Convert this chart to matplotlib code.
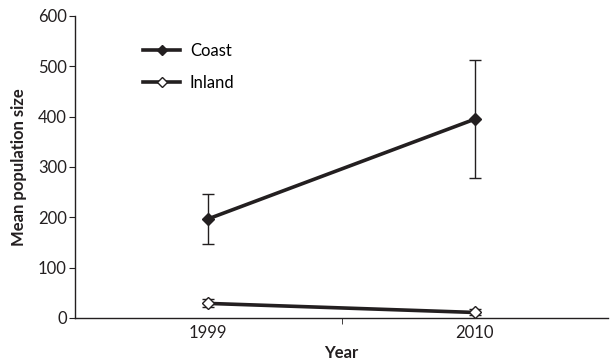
import matplotlib.pyplot as plt
import numpy as np

plt.rcParams['font.family'] = ['Lato', 'DejaVu Sans']

years = ['1999', '2010']
coast = [197, 395]
coast_err = [50, 117]
inland = [29, 11]
inland_err = [8, 6]

fig = plt.figure(figsize=(6.1, 3.64), dpi=100)
ax = fig.add_axes([75 / 610, 1 - 318 / 364, 533 / 610, (318 - 16) / 364])

x = np.arange(len(years)) + 0.5

ax.errorbar(x, coast, yerr=coast_err, fmt='none', ecolor='#231f20',
            elinewidth=1, capsize=4, capthick=1, zorder=2)
ax.errorbar(x, inland, yerr=inland_err, fmt='none', ecolor='#231f20',
            elinewidth=1, capsize=4, capthick=1, zorder=2)
ax.plot(x, coast, color='#231f20', lw=2.6, marker='D', ms=6,
        mfc='#231f20', mec='#231f20', label='Coast', zorder=3)
ax.plot(x, inland, color='#231f20', lw=2.6, marker='D', ms=6,
        mfc='white', mec='#231f20', mew=1, label='Inland', zorder=3)

ax.set_xlim(0, 2)
ax.set_ylim(0, 600)
ax.set_yticks(range(0, 601, 100))
ax.set_xticks(x)
ax.set_xticklabels(years)
ax.set_xticks([1], minor=True)
ax.tick_params(axis='x', which='major', length=0, labelsize=12, pad=5,
               colors='#231f20')
ax.tick_params(axis='x', which='minor', length=4, direction='out',
               color='#231f20')
ax.tick_params(axis='y', length=4, labelsize=12, colors='#231f20', pad=2)

for s in ['top', 'right']:
    ax.spines[s].set_visible(False)
for s in ['left', 'bottom']:
    ax.spines[s].set_color('#231f20')
    ax.spines[s].set_linewidth(1)

ax.set_xlabel('Year', fontsize=12, fontweight='bold', color='#231f20', labelpad=3)
ax.set_ylabel('Mean population size', fontsize=12, fontweight='bold',
              color='#231f20', labelpad=8)

ax.legend(loc='upper left', bbox_to_anchor=(0.1, 0.96), frameon=False,
          fontsize=12, handlelength=2.2, labelspacing=0.95, handletextpad=0.6,
          markerscale=0.85)

fig.savefig('out.png', dpi=100)
